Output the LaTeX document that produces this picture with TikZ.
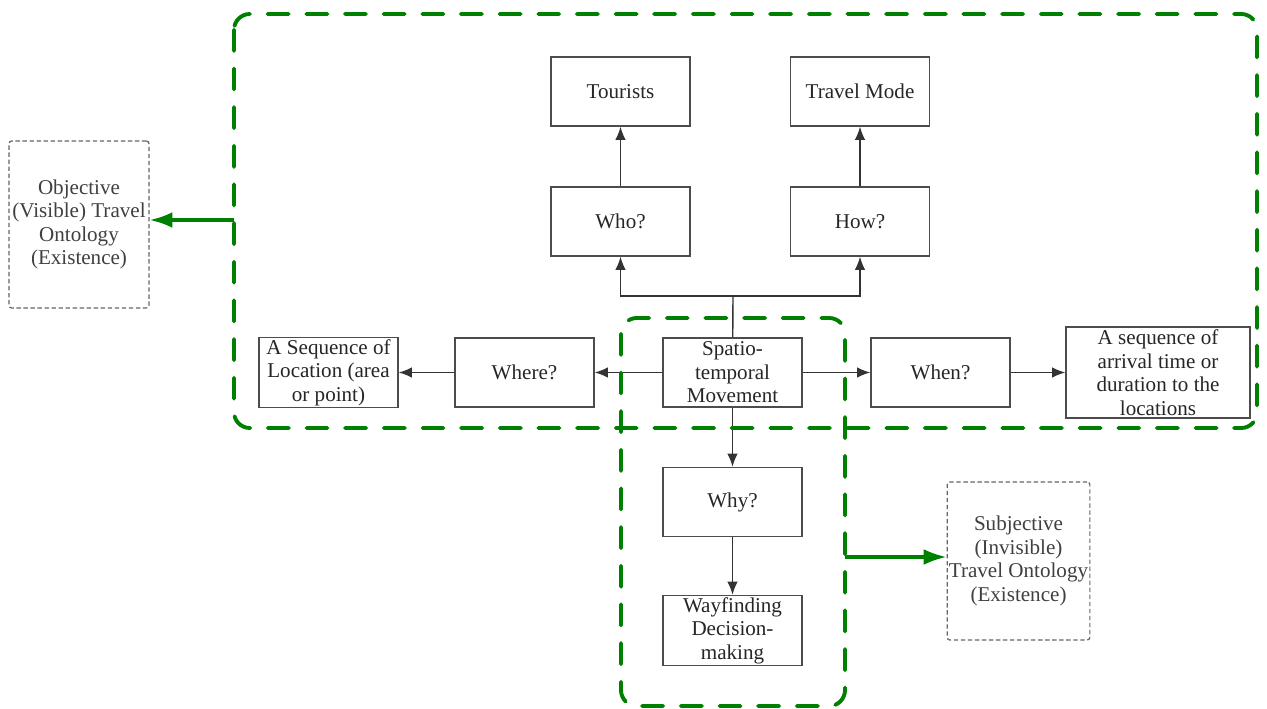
\documentclass[tikz,border=0pt]{standalone}
\usepackage{fontspec}
\setmainfont{Liberation Serif}
\usetikzlibrary{arrows.meta}

\definecolor{zonegreen}{RGB}{0,128,0}
\tikzset{
  box/.style={draw=black!70, line width=0.8pt, fill=white, text=black!85, align=center,
    minimum width=2.78cm, minimum height=1.38cm, inner sep=1pt,
    font=\fontsize{12}{13.4}\selectfont},
  ontbox/.style={box, draw=black!60, text=black!75, dashed, dash pattern=on 2.5pt off 1.5pt,
    line width=0.7pt, rounded corners=1.5pt, minimum width=2.8cm},
  zone/.style={draw=zonegreen, line width=2.2pt, line cap=round,
    dash pattern=on 12pt off 10pt, rounded corners=9pt},
  arr/.style={draw=black!80, line width=0.8pt, -{Latex[length=7.5pt,width=6pt]}},
  greenarr/.style={draw=zonegreen, line width=1.8pt, -{Latex[length=13pt,width=9pt]}}
}

\begin{document}
\begin{tikzpicture}[x=0.02cm,y=-0.02cm]

  \fill[white] (0,0) rectangle (1267,709);
  \useasboundingbox (0,0) rectangle (1267,709);

  % ontology boxes
  \node[ontbox, minimum height=3.34cm] (objective) at (79,224.5)
    {Objective\\(Visible) Travel\\Ontology\\(Existence)};
  \node[ontbox, minimum height=3.16cm] (subjective) at (1018.5,561)
    {Subjective\\(Invisible)\\Travel Ontology\\(Existence)};

  % upper row
  \node[box] (tourists) at (620.5,91.5) {Tourists};
  \node[box] (mode) at (860,91.5) {Travel Mode};
  \node[box] (who) at (620.5,221.5) {Who?};
  \node[box] (how) at (860,221.5) {How?};

  % middle row
  \node[box] (location) at (328.5,372.5) {A Sequence of\\Location (area\\or point)};
  \node[box] (where) at (524.5,372.5) {Where?};
  \node[box] (stm) at (732.5,372.5) {Spatio-\\temporal\\Movement};
  \node[box] (when) at (940.5,372.5) {When?};
  \node[box, minimum width=3.68cm, minimum height=1.82cm] (arrival) at (1158,372.5)
    {A sequence of\\arrival time or\\duration to the\\locations};

  % lower column
  \node[box] (why) at (732.5,502) {Why?};
  \node[box] (wayfinding) at (732.5,630.5) {Wayfinding\\Decision-\\making};

  % connectors
  \coordinate (fork) at (733,296);
  \draw[draw=black!80, line width=0.8pt] (stm) -- (fork);
  \draw[arr] (fork) -| (who);
  \draw[arr] (fork) -| (how);
  \draw[arr] (who) -- (tourists);
  \draw[arr] (how) -- (mode);
  \draw[arr] (stm) -- (where);
  \draw[arr] (where) -- (location);
  \draw[arr] (stm) -- (when);
  \draw[arr] (when) -- (arrival);
  \draw[arr] (stm) -- (why);
  \draw[arr] (why) -- (wayfinding);

  % green zones
  \draw[zone] (234,14) rectangle (1257,428);
  \draw[zone] (621,318) rectangle (845,706);

  % zone links
  \coordinate (objout) at (234,220);
  \coordinate (subout) at (845,557);
  \draw[greenarr] (objout) -- (objout -| objective.east);
  \draw[greenarr] (subout) -- (subout -| subjective.west);

\end{tikzpicture}
\end{document}
